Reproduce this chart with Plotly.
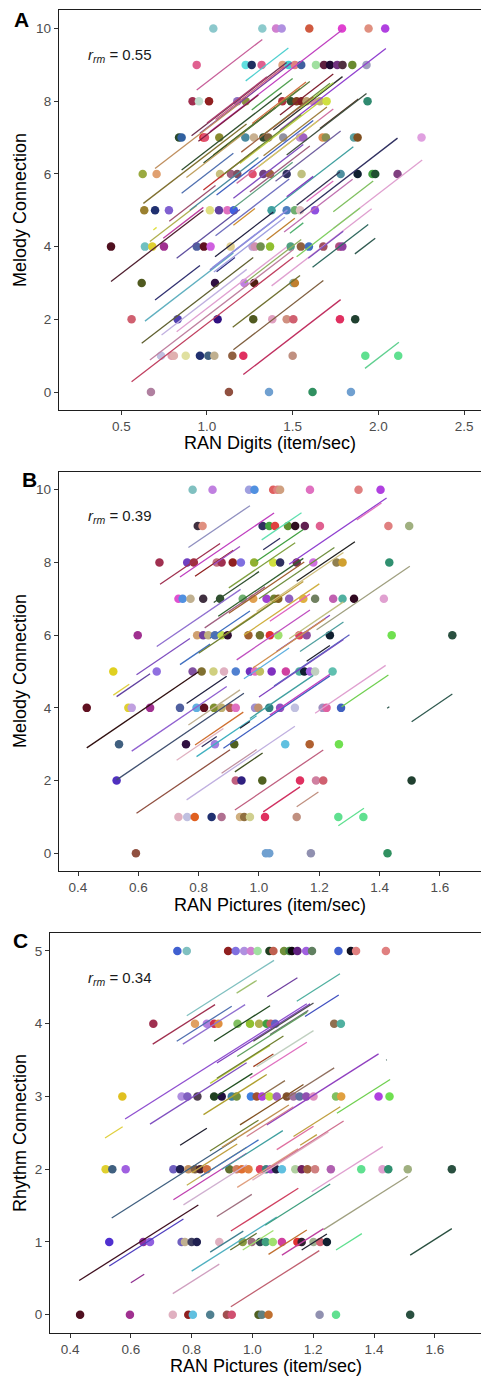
import plotly.graph_objects as go

W, H = 481, 1378

# ---------------- Panel A : RAN Digits vs Melody Connection ----------------
a_dot_x = [1.037,1.323,1.403,1.436,1.597,1.788,1.943,2.040,
           0.940,1.226,1.261,1.319,1.441,1.476,1.513,1.550,1.636,1.683,1.718,1.760,1.791,1.848,1.931,
           0.916,0.953,1.012,1.177,1.226,1.440,1.490,1.523,1.552,1.581,1.620,1.659,1.698,1.937,
           0.837,0.852,0.979,0.988,1.072,1.224,1.274,1.329,1.358,1.445,1.543,1.562,1.675,1.694,1.858,1.879,2.252,
           0.625,0.706,1.076,1.140,1.177,1.266,1.329,1.368,1.465,1.552,1.780,1.879,1.966,1.982,2.112,
           0.634,0.697,0.778,1.017,1.070,1.119,1.157,1.377,1.465,1.513,1.543,1.630,
           0.440,0.638,0.681,0.749,0.940,0.982,1.021,1.138,1.266,1.280,1.313,1.368,1.488,1.548,1.595,1.679,1.772,1.790,
           0.619,1.047,1.218,1.276,1.504,1.513,
           0.560,0.829,1.062,1.270,1.381,1.465,1.504,1.776,1.865,
           0.732,0.794,0.807,0.876,0.959,1.008,1.043,1.148,1.212,1.500,1.924,2.116,
           0.673,1.128,1.362,1.616,1.840]
a_dot_y = [10]*8 + [9]*15 + [8]*14 + [7]*17 + [6]*15 + [5]*12 + [4]*18 + [3]*6 + [2]*9 + [1]*12 + [0]*5
a_dot_colors = ["#8cc8cc","#8ccacc","#d080d0","#b090e0","#d05a40","#e040d0","#e09080","#b040e0",
                "#e06090","#60e0e0","#203060","#e06090","#e0a080","#40d0d0","#e08080","#4060a0","#a0e0a0","#602040","#200830","#703080","#503040","#6a8a30","#a0a0c0",
                "#a03050","#c0e0d0","#902020","#9070c0","#8a9040","#b03040","#305030","#804020","#802020","#c0a070","#d090a0","#c0b070","#d0e040","#308a70",
                "#2a4a2a","#3060a0","#e03030","#e05070","#8a8a30","#4a8aa0","#c8b090","#304a30","#806040","#9090a0","#c090d0","#a060c0","#e09050","#8a9050","#5aa0a0","#805020","#e0a0e0",
                "#9aaa40","#e0a070","#c8c080","#a06080","#805060","#e05070","#704080","#a06040","#303060","#c0c080","#5090a0","#102030","#40a040","#205030","#804080",
                "#9a8030","#203070","#8060d0","#e0e080","#6040a0","#e070c0","#4060e0","#40a0a0","#5080c0","#70b070","#e0c0c0","#9050e0",
                "#501020","#70c0c0","#e0d030","#a03090","#5060a0","#601020","#d060e0","#e0d090","#c0a0d0","#d090b0","#709050","#90c030","#50a080","#906040","#4070c0","#a05060","#b05080","#9040a0",
                "#505a20","#301040","#c080e0","#502010","#80b0b0","#c08030",
                "#d06070","#5040b0","#301080","#505a20","#e0a0c0","#d09080","#d06070","#e03060","#204030",
                "#c0c0e0","#e0a0b0","#e0b0b0","#e0e0a0","#203070","#406080","#c0b090","#906040","#e03060","#c09080","#60e090","#60e090",
                "#b080a0","#905040","#70a0d0","#309060","#70a0d0"]
a_slope = 3.63
a_line_x0 = [0.940,1.226,1.017,1.426,0.910,0.959,0.852,0.697,0.629,1.037,1.261,1.264,1.387,1.309,1.426,1.542,1.659,1.192,1.465,1.387,
             1.543,1.737,1.056,0.852,0.979,1.154,1.465,1.523,1.173,1.581,1.737,0.440,0.619,0.697,0.638,0.667,0.735,0.823,0.560,1.212,
             1.150,1.154,1.922,1.377,1.616,1.863,1.484,1.523,1.591,1.047,1.017,1.030,1.056,0.823,0.687,1.348,1.154,0.745,0.667,1.10,
             1.20,0.98,1.30,0.90,1.25,1.05,0.95,
             1.12,1.00,1.33,1.40,0.88,1.15,1.45,1.05,0.78,1.22,1.040]
a_line_x1 = [1.323,1.475,1.788,2.044,1.465,1.494,1.436,1.192,1.231,1.542,1.500,1.578,1.791,1.718,1.737,1.737,1.883,1.659,1.931,1.854,
             2.112,2.256,1.620,1.154,1.309,1.562,1.620,1.776,1.737,1.737,1.970,0.979,1.270,0.959,1.154,1.504,1.232,1.465,1.504,1.780,
             1.543,1.679,2.120,1.961,1.941,1.982,1.562,1.893,1.795,1.387,1.465,1.470,1.163,1.192,0.706,1.513,1.280,0.979,0.940,1.55,
             1.62,1.40,1.65,1.30,1.60,1.45,1.30,
             1.60,1.35,1.70,1.78,1.22,1.50,1.85,1.48,1.05,1.55,1.455]
a_line_y0 = [8.31,8.56,7.16,7.21,7.05,7.12,6.11,6.15,5.19,6.52,7.76,7.39,7.21,7.01,7.62,7.80,7.25,6.29,6.52,5.05,
             4.92,4.50,5.42,5.47,5.56,5.33,5.37,5.14,5.74,5.24,4.96,3.04,1.34,2.53,1.95,0.88,1.57,1.66,0.28,0.48,
             1.78,1.16,0.65,2.92,3.43,3.80,4.37,3.72,3.68,3.72,3.36,3.42,3.31,3.68,4.46,4.18,4.59,4.23,4.14,6.0,
             6.6,6.3,6.2,5.0,5.5,7.5,6.9,
             6.8,7.4,6.5,5.8,5.9,5.05,4.4,4.3,4.7,3.0,3.30]
a_line_colors = ["#c8609a","#50d0d0","#c040c0","#9040d0","#703050","#8040a0","#305030","#c09060","#807030","#8a9030","#50a050","#d07040","#303030","#709040","#802030","#a0d040","#503020","#c0d040","#405040","#40a0a0",
                 "#303060","#e0a0d0","#4060c0","#5070b0","#c03030","#8050c0","#8040c0","#303050","#d070a0","#e070c0","#80c060","#502030","#606030","#303070","#60b0c0","#c080a0","#c0b0e0","#e0a0d0","#c04060","#c03060",
                 "#707030","#806040","#60d090","#e0a0d0","#306a60","#305a50","#50b070","#80d060","#8050c0","#202040","#8080d0","#9090e0","#303080","#6050a0","#e0e040","#c08030","#d09030","#c040a0","#b0b050","#6a8a30",
                 "#a06040","#2a4a2a","#d0d060","#4a8aa0","#a06080","#d06080","#802040",
                 "#5a7a3a","#b04070","#a08040","#7060a0","#c0a060","#60a080","#c070b0","#7070c0","#a05070","#90b060","#a0a0e0"]

# ---------------- Panel B : RAN Pictures vs Melody Connection ----------------
b_dot_x = [0.780,0.846,0.967,0.985,1.047,1.061,1.070,1.169,1.330,1.403,
           0.797,0.813,1.012,1.034,1.053,1.096,1.120,1.152,1.202,1.429,1.498,
           0.670,0.762,0.784,0.860,0.876,0.913,0.940,0.984,1.047,1.070,1.125,1.180,1.257,1.277,1.432,
           0.733,0.747,0.773,0.815,0.871,0.946,0.981,1.025,1.050,1.064,1.100,1.147,1.186,1.246,1.277,1.315,1.414,
           0.598,0.795,0.815,0.832,0.854,0.876,0.896,0.965,1.003,1.036,1.064,1.134,1.158,1.235,1.440,1.641,
           0.517,0.661,0.780,0.810,0.849,0.884,0.923,0.970,0.987,1.003,1.042,1.089,1.134,1.150,1.169,1.186,1.244,
           0.429,0.567,0.578,0.639,0.738,0.793,0.818,0.851,0.876,0.904,0.923,0.987,0.998,1.034,1.070,1.119,1.211,1.224,1.272,
           0.536,0.758,0.854,0.918,1.087,1.168,1.265,
           0.528,0.923,0.942,1.011,1.136,1.189,1.213,1.506,
           0.733,0.762,0.787,0.843,0.876,0.937,0.951,0.970,1.020,1.125,1.263,1.346,
           0.592,1.023,1.034,1.172,1.426]
b_dot_y = [10]*10 + [9]*11 + [8]*15 + [7]*17 + [6]*16 + [5]*17 + [4]*19 + [3]*7 + [2]*8 + [1]*12 + [0]*5
b_dot_colors = ["#80c0c0","#c080e0","#a0a0e0","#5090e0","#e06060","#e08080","#d0a080","#e070c0","#e08080","#b040e0",
                "#403040","#e09080","#303060","#40a040","#e04040","#609030","#301020","#602050","#e06090","#e08080","#a0b080",
                "#a03050","#7040c0","#a03040","#c07080","#a03050","#902020","#8070e0","#90b030","#d0e040","#303060","#703050","#d070e0","#908050","#d0a030","#309070",
                "#e050d0","#5090e0","#c0b090","#403040","#305030","#70b070","#e0a050","#a040d0","#708030","#806020","#9060c0","#e0b040","#708060","#c060b0","#50b0a0","#300820","#e0a0d0",
                "#a03090","#d0a070","#7040a0","#c0b080","#5070b0","#c0e050","#301030","#a06030","#707030","#e03030","#a0e070","#e04060","#9050a0","#102030","#70e050","#2a5040",
                "#e0d020","#9070e0","#8050a0","#807030","#d0d080","#e0b0c0","#5080d0","#7030c0","#e070c0","#c0c060","#8030c0","#d040a0","#50b0a0","#102030","#a060e0","#c0d0c0","#60c0b0",
                "#601020","#e0d030","#c0a0e0","#a03090","#5060a0","#60b0e0","#601020","#809030","#c0b070","#b06050","#e070c0","#a090d0","#c09070","#308080","#9050c0","#c0c0e0","#a090c0","#e060a0","#4060c0",
                "#406080","#301040","#a080e0","#506020","#60c0e0","#b06030","#70e050",
                "#5030c0","#c06080","#302080","#506020","#e03060","#d080a0","#d06070","#204030",
                "#e0b0c0","#c0c0e0","#e06020","#203070","#b07090","#d0b080","#907040","#d0d090","#e03060","#c09080","#60e090","#60e090",
                "#905040","#70a0d0","#70a0d0","#9090b0","#309060"]
b_slope = 5.64
b_line_x0 = [0.766,0.672,0.738,0.788,0.849,1.009,1.014,0.992,1.125,1.100,1.324,1.191,0.661,0.865,0.992,0.871,1.136,1.158,1.036,0.838,
             0.594,0.738,0.926,1.058,0.429,0.578,0.528,0.517,0.528,0.760,0.594,0.760,0.876,0.920,0.920,1.014,1.125,1.263,1.506,1.425,
             1.186,1.274,0.788,0.793,0.810,0.882,0.727,0.937,0.766,1.036,0.970,0.80,0.95,0.90,1.00,0.85,1.10,0.95,1.00,
             0.90,0.98,1.05,0.82]
b_line_x1 = [0.970,0.871,1.050,0.915,0.937,1.141,1.070,1.147,1.318,1.423,1.406,1.500,0.939,1.147,1.280,1.147,1.280,1.235,1.169,0.970,
             0.771,0.838,1.169,1.235,0.800,0.893,0.950,0.570,0.639,0.893,0.904,1.119,0.992,1.012,1.213,1.136,1.197,1.348,1.641,1.432,
             1.420,1.429,0.948,0.992,0.860,1.235,0.882,0.970,0.937,1.235,1.180,1.05,1.20,1.15,1.25,1.00,1.28,1.10,1.28,
             1.12,1.22,1.30,1.02]
b_line_y0 = [8.41,7.40,7.60,7.62,7.94,8.62,8.35,8.03,7.48,7.95,9.17,6.15,5.69,6.52,6.65,5.92,5.55,5.28,6.38,5.92,
             4.91,5.19,5.32,5.55,2.90,2.81,2.02,4.35,4.31,4.12,1.10,1.47,2.20,2.24,1.19,1.14,1.28,0.76,3.62,3.99,
             3.85,4.03,2.98,2.66,2.93,2.89,2.56,3.44,3.53,3.80,3.71,5.5,6.0,6.6,7.0,6.9,5.9,4.8,4.3,
             7.3,5.1,4.6,6.2]
b_line_colors = ["#9090c0","#a03050","#c040c0","#902020","#a050c0","#60e0b0","#303060","#40a040","#202020","#9040d0","#e070c0","#a0a080","#9070d0","#306030","#d0c080","#c0a040","#50a0a0","#202030","#e060c0","#4070c0",
                 "#8050c0","#4070c0","#c050c0","#8040c0","#301010","#9060d0","#405070","#e0d040","#6040a0","#202040","#905040","#c0b0e0","#c090a0","#405020","#c06080","#d03060","#c09080","#60e090","#305a50","#305a50",
                 "#e0a0d0","#70d050","#d07030","#40b0c0","#303060","#4060c0","#e0b0c0","#202030","#c0b090","#c040c0","#40a0a0","#708030","#d0b040","#a06030","#709040","#305030","#c0c080","#60b0e0","#8040c0",
                 "#80a040","#d09050","#6060c0","#a06080"]

# ---------------- Panel C : RAN Pictures vs Rhythm Connection ----------------
c_dot_x = [0.753,0.784,0.920,0.945,0.973,0.995,1.017,1.056,1.069,1.104,1.122,1.130,1.148,1.177,1.196,1.283,1.324,1.341,1.439,
           0.674,0.811,0.850,0.874,0.888,0.951,0.992,1.022,1.047,1.060,1.075,1.269,1.291,
           0.572,0.767,0.786,0.819,0.874,0.899,0.932,0.948,0.995,1.014,1.032,1.056,1.080,1.113,1.135,1.155,1.177,1.201,1.275,1.292,1.415,1.451,
           0.517,0.539,0.583,0.740,0.762,0.789,0.811,0.828,0.850,0.924,0.948,0.965,0.987,1.025,1.045,1.060,1.078,1.097,1.141,1.162,1.181,1.206,1.258,1.358,1.428,1.447,1.511,1.656,
           0.529,0.641,0.663,0.767,0.778,0.800,0.817,0.891,0.968,0.998,1.025,1.044,1.067,1.097,1.148,1.162,1.201,1.223,1.245,
           0.433,0.597,0.738,0.789,0.804,0.861,0.916,0.932,1.020,1.031,1.053,1.221,1.275,1.519]
c_dot_y = [5]*19 + [4]*13 + [3]*22 + [2]*28 + [1]*19 + [0]*14
c_dot_colors = ["#4060d0","#80c0c0","#902020","#8070e0","#b090e0","#d080d0","#a0e0a0","#204020","#c06050","#70903a","#408040","#100810","#602080","#a060e0","#608060","#4060d0","#101020","#e08080","#e08080",
                "#a03050","#e0a060","#b080e0","#d03050","#e09040","#80c060","#90c030","#b0b050","#40a040","#c06060","#6060c0","#907050","#50b0a0",
                "#e0c020","#b090e0","#8060c0","#504050","#204020","#201040","#4080a0","#709040","#4080e0","#a05030","#b040e0","#c0e040","#a060c0","#805030","#a070a0","#6070a0","#9050b0","#e090c0","#80c060","#e0a040","#b040e0","#70e050",
                "#e0d030","#406080","#a060e0","#7060c0","#202050","#c09060","#806040","#402030","#d07040","#607030","#d08060","#e07030","#e08040","#e04060","#408080","#a040c0","#202040","#60c0e0","#b0d0a0","#702060","#a06040","#d08080","#b060b0","#60e090","#e0a0d0","#309070","#a0b080","#2a5040",
                "#5030d0","#9030a0","#9060e0","#7060c0","#c0b090","#404060","#202050","#e0b0c0","#8a9a40","#a07080","#304050","#40a080","#a0e070","#d040a0","#e03030","#302030","#a0b090","#d06070","#102030",
                "#501020","#a03090","#e0b0c0","#902020","#60c0e0","#508090","#a05050","#d05070","#506020","#608080","#c07030","#9090b0","#60e090","#2a5040"]
c_slope = 2.65
c_line_x0 = [0.784,0.948,1.049,1.146,1.173,0.672,0.751,0.771,0.874,0.883,1.003,1.058,0.581,0.663,0.861,0.883,1.003,1.014,0.992,1.025,
             1.113,0.839,1.047,1.278,1.440,0.515,0.959,0.981,1.135,0.430,0.529,0.537,0.600,0.738,0.800,0.929,0.861,0.927,0.968,0.883,
             0.929,1.042,1.053,1.097,1.162,1.275,1.519,1.195,1.234,0.740,0.773,0.784,0.762,1.080,1.157,0.83,0.90,0.95,0.86,0.80,
             1.00,0.88,0.95,0.90,1.05]
c_line_x1 = [1.071,1.014,1.148,1.288,1.284,0.877,0.932,0.976,1.058,1.190,1.201,1.184,1.179,0.981,1.058,1.102,1.069,1.201,1.179,1.107,
             1.269,1.047,1.415,1.453,1.442,0.573,1.168,1.135,1.289,0.822,0.773,0.948,0.644,0.891,1.080,1.220,0.970,1.014,1.069,0.998,
             1.151,1.256,1.179,1.234,1.245,1.360,1.656,1.429,1.511,0.981,0.981,0.981,0.850,1.201,1.212,1.02,1.10,1.15,1.02,0.95,
             1.25,1.00,1.18,1.12,1.30]
c_line_y0 = [4.11,4.42,4.37,4.31,4.10,3.72,3.76,3.72,3.76,3.46,3.76,3.85,2.69,2.62,3.18,3.25,3.41,3.41,3.25,3.00,
             2.98,2.75,2.61,2.77,3.50,2.43,2.61,2.45,2.45,0.47,0.67,1.33,0.44,0.29,0.60,0.11,0.86,0.89,0.89,1.35,
             1.15,1.23,0.83,0.82,0.89,0.89,0.82,1.69,1.17,1.58,1.51,1.78,2.33,2.27,2.33,1.9,2.0,1.75,2.25,1.95,
             1.85,3.0,3.55,2.3,2.0]
c_line_colors = ["#80c0c0","#a0c070","#7040a0","#50b0a0","#4050c0","#a03050","#5070b0","#9070d0","#204a20","#8040c0","#505050","#707070","#9050d0","#8050c0","#c0d040","#708030","#a04020","#c0d0c0","#e070c0","#907050",
                 "#907060","#b0a030","#9040c0","#70d050","#305a50","#e0d040","#805020","#d08090","#c0a040","#401020","#5040c0","#406080","#903090","#d0a0c0","#50b0c0","#c06070","#408090","#607030","#a0e070","#a07080",
                 "#d04060","#40a080","#c07030","#c040a0","#202030","#60e090","#2a5040","#e0a0d0","#a0a080","#c040b0","#d0b0d0","#c0b050","#202030","#e070a0","#c0a040","#4070c0","#40a0a0","#e0a080","#708030","#c0a040",
                 "#e0b0c0","#205020","#60a060","#c09050","#d07090"]

# ---------------- figure ----------------
FONT = "Liberation Sans, Arial, sans-serif"
fig = go.Figure()

panels = [
    ("x", "y", a_dot_x, a_dot_y, a_dot_colors, a_line_x0, a_line_x1, a_line_y0, a_line_colors, a_slope),
    ("x2", "y2", b_dot_x, b_dot_y, b_dot_colors, b_line_x0, b_line_x1, b_line_y0, b_line_colors, b_slope),
    ("x3", "y3", c_dot_x, c_dot_y, c_dot_colors, c_line_x0, c_line_x1, c_line_y0, c_line_colors, c_slope),
]
for xa, ya, dx, dy, dc, lx0, lx1, ly0, lc, s in panels:
    fig.add_trace(go.Scatter(x=dx, y=dy, mode="markers", xaxis=xa, yaxis=ya,
                             marker=dict(size=8.5, color=dc, line=dict(width=0)),
                             hoverinfo="skip", showlegend=False))
    for x0, x1, y0, col in zip(lx0, lx1, ly0, lc):
        fig.add_trace(go.Scatter(x=[x0, x1], y=[y0, y0 + s * (x1 - x0)], mode="lines",
                                 xaxis=xa, yaxis=ya, line=dict(color=col, width=1.3),
                                 hoverinfo="skip", showlegend=False))

def px_x(p):
    return p / W

def px_y(p):
    return 1 - p / H

axis_common = dict(showgrid=False, zeroline=False, showline=True, linecolor="#1e1e1e", linewidth=1.3,
                   ticks="outside", ticklen=4, tickwidth=1, tickcolor="#333333",
                   tickfont=dict(family=FONT, size=13.5, color="#4d4d4d"), automargin=False)

fig.update_layout(
    width=W, height=H, margin=dict(l=0, r=0, t=0, b=0),
    paper_bgcolor="white", plot_bgcolor="white", showlegend=False,
    xaxis=dict(domain=[px_x(59), 1], anchor="y", range=[0.1365, 2.599], mirror=True,
               tickvals=[0.5, 1.0, 1.5, 2.0, 2.5], ticktext=["0.5", "1.0", "1.5", "2.0", "2.5"], **axis_common),
    yaxis=dict(domain=[px_y(410), px_y(10)], anchor="x", range=[-0.495, 10.51],
               tickvals=[0, 2, 4, 6, 8, 10], **axis_common),
    xaxis2=dict(domain=[px_x(59), 1], anchor="y2", range=[0.337, 1.736], mirror=True,
                tickvals=[0.4, 0.6, 0.8, 1.0, 1.2, 1.4, 1.6], ticktext=["0.4", "0.6", "0.8", "1.0", "1.2", "1.4", "1.6"], **axis_common),
    yaxis2=dict(domain=[px_y(870.7), px_y(471.7)], anchor="x2", range=[-0.478, 10.495],
                tickvals=[0, 2, 4, 6, 8, 10], **axis_common),
    xaxis3=dict(domain=[px_x(50), 1], anchor="y3", range=[0.334, 1.752], mirror=True,
                tickvals=[0.4, 0.6, 0.8, 1.0, 1.2, 1.4, 1.6], ticktext=["0.4", "0.6", "0.8", "1.0", "1.2", "1.4", "1.6"], **axis_common),
    yaxis3=dict(domain=[px_y(1332.7), px_y(933.3)], anchor="x3", range=[-0.247, 5.243],
                tickvals=[0, 1, 2, 3, 4, 5], **axis_common),
)

ann = []
def add_text(text, x, y, size, color="black", xanchor="center", yanchor="middle", angle=0):
    ann.append(dict(text=text, x=px_x(x), y=px_y(y), xref="paper", yref="paper", showarrow=False,
                    xanchor=xanchor, yanchor=yanchor, textangle=angle,
                    font=dict(family=FONT, size=size, color=color)))

# panel letters
add_text("<b>A</b>", 21, 19.5, 21)
add_text("<b>B</b>", 29, 479.5, 21)
add_text("<b>C</b>", 20, 940.5, 21)
# rm annotations
add_text("<i>r</i><sub><i>rm</i></sub> = 0.55", 86, 55, 15, color="#1a1a1a", xanchor="left")
add_text("<i>r</i><sub><i>rm</i></sub> = 0.39", 86, 516, 15, color="#1a1a1a", xanchor="left")
add_text("<i>r</i><sub><i>rm</i></sub> = 0.34", 86, 978, 15, color="#1a1a1a", xanchor="left")
# axis titles
add_text("RAN Digits (item/sec)", 270, 443, 18)
add_text("RAN Pictures (item/sec)", 270, 905, 18)
add_text("RAN Pictures (item/sec)", 265.5, 1366, 18)
add_text("Melody Connection", 20, 210, 18, angle=-90)
add_text("Melody Connection", 20, 671, 18, angle=-90)
add_text("Rhythm Connection", 20, 1133, 18, angle=-90)
fig.update_layout(annotations=ann)

fig.write_html("out.html", config={"displayModeBar": False},
               post_script="document.body.style.margin='0';")
